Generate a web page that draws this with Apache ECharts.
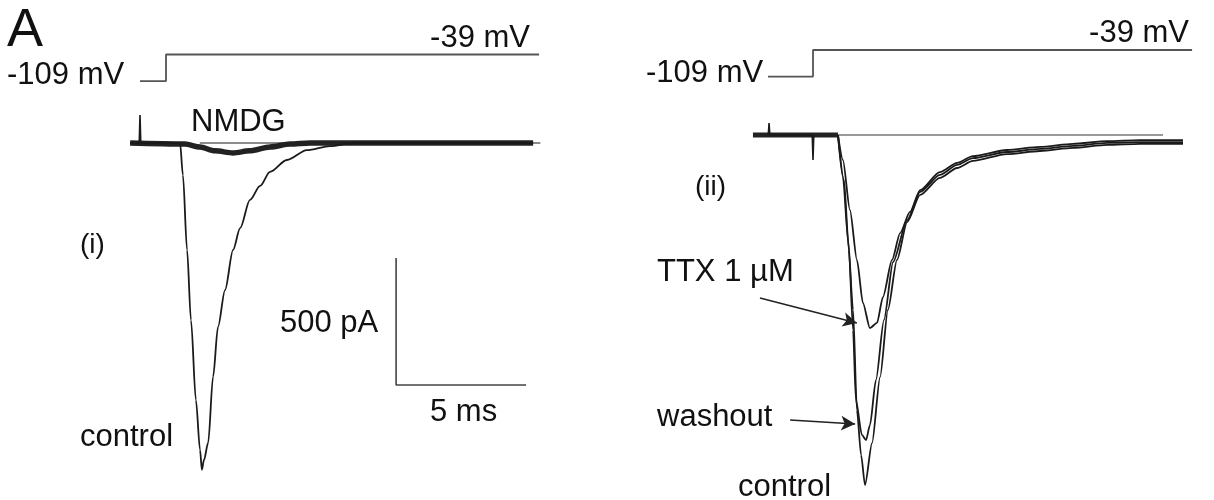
<!DOCTYPE html>
<html>
<head>
<meta charset="utf-8">
<script src="https://cdn.jsdelivr.net/npm/echarts@6/dist/echarts.min.js"></script>
<style>
html, body { margin: 0; padding: 0; background: #fff; }
#chart { width: 1214px; height: 500px; }
</style>
</head>
<body>
<div id="chart"></div>
<script>
// time in ms from the voltage step, current in pA, voltage in mV

// voltage protocols
var stepT_left = [-1.0, 0, 0, 14.35]
var stepV_left = [-109, -109, -39, -39]
var stepT_right = [-1.73, 0, 0, 14.58]
var stepV_right = [-109, -109, -39, -39]

// (i) control
var ctrlT_left = [-1.38, 0.54, 0.65, 0.81, 0.96, 1.15, 1.31, 1.38, 1.46, 1.62, 1.81, 2.00, 2.27, 2.58, 2.85, 3.23, 3.62, 4.00, 4.65, 5.42, 6.31, 7.19, 14.12]
var ctrlI_left = [0, 0, -126, -421, -697, -1012, -1209, -1287, -1248, -1181, -921, -724, -579, -421, -335, -224, -169, -114, -67, -28, -12, 0, 0]
// (i) NMDG
var nmdgT = [-1.38, 0.73, 1.31, 1.88, 2.58, 3.23, 4.00, 4.77, 5.54, 14.12]
var nmdgI = [0, -4, -16, -31, -39, -31, -16, -4, 0, 0]
// (i) capacitive artefact
var artT_left = [-1.03, -1.0, -0.97]
var artI_left = [0, 110, 0]
// (i) zero-current line
var zeroT_left = [1.3, 14.4]
var zeroI_left = [0, 0]

// scale bar: 5 ms, 500 pA
var scaleT = [8.85, 8.85, 13.85]
var scaleI = [-453, -953, -953]

// (ii) pre-step baseline
var baseT_right = [-2.31, 0.96]
var baseI_right = [0, 0]
var artT_right = [-1.72, -1.69, -1.66, -0.03, 0, 0.03]
var artI_right = [0, 47, 0, 0, -98, 0]
var zeroT_right = [0.92, 13.46]
var zeroI_right = [0, 0]
// (ii) control
var ctrlT_right = [0.96, 1.15, 1.35, 1.54, 1.69, 1.85, 2.00, 2.27, 2.58, 2.88, 3.23, 3.62, 4.12, 4.88, 5.54, 6.15, 7.46, 8.73, 10.0, 11.31, 12.58, 14.23]
var ctrlI_right = [0, -165, -413, -689, -1083, -1260, -1378, -1213, -953, -689, -492, -343, -236, -169, -130, -102, -75, -63, -51, -39, -35, -35]
// (ii) washout
var washT = [0.96, 1.19, 1.38, 1.54, 1.65, 1.88, 2.04, 2.19, 2.42, 2.73, 3.08, 3.62, 4.12, 4.88, 5.54, 6.15, 7.46, 8.73, 10.0, 11.31, 12.58, 14.23]
var washI = [0, -177, -453, -768, -1043, -1181, -1201, -1142, -965, -728, -500, -335, -224, -157, -118, -91, -67, -55, -43, -31, -28, -28]
// (ii) TTX 1 uM
var ttxT = [0.96, 1.15, 1.42, 1.69, 1.92, 2.19, 2.46, 2.69, 3.04, 3.35, 3.73, 4.12, 4.88, 5.54, 6.15, 7.46, 8.73, 10.0, 11.31, 12.58, 14.23]
var ttxI = [0, -98, -295, -492, -661, -760, -740, -638, -492, -386, -303, -217, -146, -110, -83, -59, -47, -35, -24, -20, -20]

// arrows [t0, I0, t1, I1]
var arrowTTX = [-2.04, -642, 1.69, -740]
var arrowWash = [-0.88, -1122, 1.62, -1138]

function zip (t, v) {
  return t.map(function (x, i) { return [x, v[i]] })
}

var font = "'Liberation Sans', Arial, Helvetica, sans-serif"
var ink = '#1a1a1a'

function label (text, x, y, size, align) {
  return {
    type: 'text',
    x: x,
    y: y,
    silent: true,
    style: {
      text: text,
      font: (size || 31) + 'px ' + font,
      fill: '#111',
      align: align || 'left',
      verticalAlign: 'middle'
    }
  }
}

function trace (name, xi, data, width, color, smooth) {
  return {
    name: name,
    type: 'line',
    xAxisIndex: xi,
    yAxisIndex: xi,
    data: data,
    showSymbol: false,
    symbol: 'none',
    smooth: smooth || false,
    smoothMonotone: 'x',
    clip: false,
    animation: false,
    silent: true,
    lineStyle: { color: color || ink, width: width }
  }
}

var xAx = function (g) { return { type: 'value', gridIndex: g, min: -6, max: 15, show: false } }

var chart = echarts.init(document.getElementById('chart'))
var ttxSeries = trace('TTX 1 µM', 3, zip(ttxT, ttxI), 1.8, ink, 0.25)
ttxSeries.markLine = {
  silent: true,
  symbol: ['none', 'arrow'],
  symbolSize: [11, 14],
  label: { show: false },
  lineStyle: { color: '#222', width: 1.6, type: 'solid' },
  data: [
    [{ coord: [arrowTTX[0], arrowTTX[1]] }, { coord: [arrowTTX[2], arrowTTX[3]] }],
    [{ coord: [arrowWash[0], arrowWash[1]] }, { coord: [arrowWash[2], arrowWash[3]] }]
  ]
}

chart.setOption({
  backgroundColor: '#fff',
  animation: false,
  grid: [
    { left: 10, top: 51.1, width: 546, height: 34.2 },
    { left: 10, top: 92.2, width: 546, height: 406.4 },
    { left: 657, top: 46.6, width: 546, height: 34.2 },
    { left: 657, top: 84.2, width: 546, height: 406.4 }
  ],
  xAxis: [xAx(0), xAx(1), xAx(2), xAx(3)],
  yAxis: [
    { type: 'value', gridIndex: 0, min: -120, max: -30, show: false },
    { type: 'value', gridIndex: 1, min: -1400, max: 200, show: false },
    { type: 'value', gridIndex: 2, min: -120, max: -30, show: false },
    { type: 'value', gridIndex: 3, min: -1400, max: 200, show: false }
  ],
  series: [
    trace('step (i)', 0, zip(stepT_left, stepV_left), 1.8, '#555'),
    trace('zero (i)', 1, zip(zeroT_left, zeroI_left), 1.3, '#666'),
    trace('NMDG', 1, zip(nmdgT, nmdgI), 5.5, '#222', 0.3),
    trace('control (i)', 1, zip(ctrlT_left, ctrlI_left), 1.8, ink, 0.3),
    trace('artefact (i)', 1, zip(artT_left, artI_left), 1.6, ink),
    trace('scale bar', 1, zip(scaleT, scaleI), 1.6, '#444'),

    trace('step (ii)', 2, zip(stepT_right, stepV_right), 1.8, '#555'),
    trace('zero (ii)', 3, zip(zeroT_right, zeroI_right), 1.5, '#777'),
    trace('baseline (ii)', 3, zip(baseT_right, baseI_right), 5, '#222'),
    trace('artefact (ii)', 3, zip(artT_right, artI_right), 1.6, ink),
    trace('control (ii)', 3, zip(ctrlT_right, ctrlI_right), 1.8, ink, 0.25),
    trace('washout', 3, zip(washT, washI), 1.8, ink, 0.25),
    ttxSeries
  ],
  graphic: [
    label('A', 7, 31, 54),
    label('-109 mV', 7, 75),
    label('-39 mV', 530, 38, 31, 'right'),
    label('NMDG', 191, 122),
    label('(i)', 80, 245, 28),
    label('500 pA', 280, 323),
    label('5 ms', 430, 412),
    label('control', 80, 437),

    label('-109 mV', 646, 73),
    label('-39 mV', 1189, 33, 31, 'right'),
    label('(ii)', 695, 187, 28),
    label('TTX 1 µM', 657, 272),
    label('washout', 657, 417),
    label('control', 738, 487)
  ]
})
</script>
</body>
</html>
